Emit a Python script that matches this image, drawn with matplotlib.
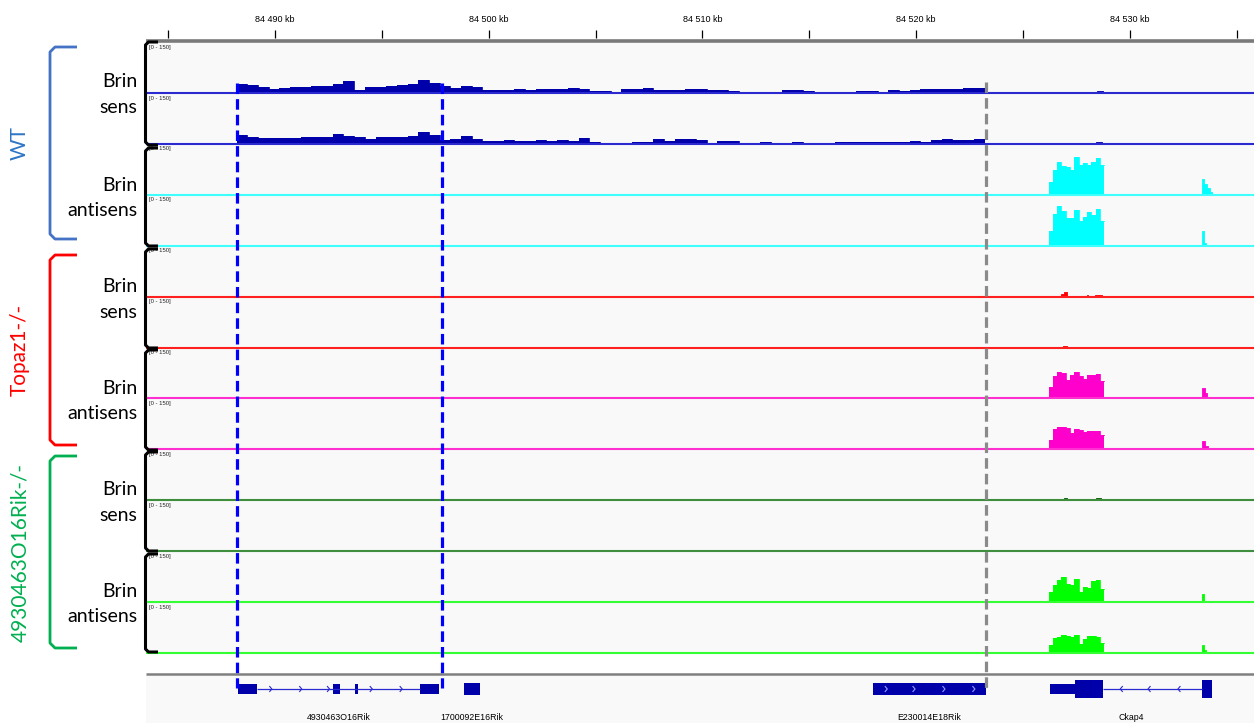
import matplotlib.pyplot as plt
import matplotlib.transforms as mtransforms

W, H = 1254, 723
fig = plt.figure(figsize=(W / 100, H / 100), dpi=100)
fig.patch.set_facecolor('white')

# genomic window shown (kb)
x_lo, x_hi = 84483.96, 84535.81
ruler_ticks = [84485, 84490, 84495, 84500, 84505, 84510, 84515, 84520, 84525, 84530, 84535]
ruler_labels = [84490, 84500, 84510, 84520, 84530]

# sense coverage, 0.5 kb bins starting at 84 488.2 kb (scale 0-150)
sens_start, sens_step = 84488.2, 0.5
wt_sens_1 = [27, 24, 18, 12, 15, 18, 18, 21, 21, 27, 36, 9, 18, 18, 21, 24, 27, 39, 30, 21,
             15, 21, 18, 9, 9, 9, 12, 9, 12, 12, 12, 15, 12, 6, 6, 3, 12, 12, 15, 9,
             9, 9, 12, 12, 9, 9, 6, 0, 0, 3, 3, 9, 9, 6, 0, 3, 0, 0, 6, 6,
             3, 9, 6, 9, 12, 12, 12, 12, 15, 15]
wt_sens_2 = [27, 21, 20, 18, 18, 18, 21, 21, 21, 30, 24, 21, 15, 21, 21, 21, 24, 36, 27, 12,
             15, 24, 15, 9, 9, 12, 9, 9, 12, 9, 12, 9, 18, 6, 3, 3, 3, 6, 6, 15,
             9, 15, 15, 12, 3, 9, 9, 0, 3, 6, 3, 3, 6, 3, 0, 3, 6, 6, 6, 6,
             6, 6, 6, 9, 6, 12, 15, 12, 12, 15]

# antisense coverage over Ckap4 3' exon, 0.2 kb bins starting at 84 526.2 kb
peak_start, peak_step = 84526.2, 0.2
wt_anti_1 = [40, 75, 97, 87, 82, 75, 112, 90, 95, 90, 97, 110, 90]
wt_anti_2 = [45, 95, 117, 105, 82, 82, 108, 75, 85, 100, 92, 110, 75]
topaz_anti_1 = [35, 67, 78, 75, 57, 70, 80, 67, 60, 70, 70, 73, 52]
topaz_anti_2 = [30, 60, 66, 67, 65, 50, 60, 57, 52, 55, 55, 56, 45]
ko_anti_1 = [30, 52, 66, 75, 55, 52, 68, 30, 47, 42, 62, 66, 40]
ko_anti_2 = [25, 45, 48, 55, 52, 47, 55, 28, 42, 50, 50, 48, 32]

# isolated small signals: (start kb, end kb, value)
wt_sens_1_blips = [(84526.87, 84527.02, 5), (84527.30, 84527.44, 5), (84528.47, 84528.75, 8)]
wt_sens_2_blips = [(84526.83, 84526.98, 5), (84528.42, 84528.70, 7)]
wt_anti_1_blips = [(84491.70, 84491.78, 4), (84528.93, 84529.07, 5), (84530.80, 84530.94, 5),
                   (84532.44, 84532.68, 5), (84533.38, 84533.48, 47), (84533.48, 84533.61, 32),
                   (84533.61, 84533.75, 22), (84533.75, 84533.85, 9)]
wt_anti_2_blips = [(84487.83, 84487.90, 3), (84495.30, 84495.38, 3), (84499.66, 84499.73, 3),
                   (84507.38, 84507.45, 3), (84508.08, 84508.15, 3), (84511.20, 84511.28, 3),
                   (84519.83, 84519.90, 3), (84521.79, 84521.86, 3), (84522.12, 84522.19, 3),
                   (84530.24, 84530.34, 3), (84530.57, 84530.71, 3), (84532.91, 84533.19, 4),
                   (84533.38, 84533.48, 45), (84533.48, 84533.58, 10)]
topaz_sens_1_blips = [(84526.78, 84526.92, 8), (84526.92, 84527.06, 14), (84528.00, 84528.05, 6),
                      (84528.37, 84528.70, 6)]
topaz_sens_2_blips = [(84526.87, 84527.06, 7)]
topaz_anti_1_blips = [(84530.20, 84530.34, 5), (84533.38, 84533.52, 32), (84533.52, 84533.61, 17),
                      (84533.61, 84533.70, 7)]
topaz_anti_2_blips = [(84521.66, 84521.73, 4), (84533.38, 84533.52, 25), (84533.52, 84533.66, 10)]
ko_sens_1_blips = [(84526.92, 84527.06, 7), (84528.42, 84528.65, 7)]
ko_sens_2_blips = [(84526.59, 84526.69, 6), (84526.83, 84526.87, 6), (84527.06, 84527.11, 6),
                   (84528.42, 84528.65, 6)]
ko_anti_1_blips = [(84519.45, 84519.52, 4), (84524.49, 84524.63, 5), (84533.38, 84533.48, 24)]
ko_anti_2_blips = [(84529.59, 84529.82, 4), (84532.96, 84533.05, 4), (84533.38, 84533.48, 25),
                   (84533.48, 84533.56, 10)]

# genes: exons (start, end, half height px), introns, strand chevrons
gene_exons = [(84488.27, 84489.16, 5), (84492.71, 84493.04, 5), (84493.74, 84493.88, 5),
              (84496.79, 84497.67, 5), (84498.84, 84499.59, 6), (84517.98, 84523.25, 6),
              (84526.27, 84527.44, 5), (84527.44, 84528.75, 9), (84533.38, 84533.85, 9)]
gene_introns = [(84489.16, 84496.79), (84528.75, 84533.38)]
fwd_arrows = [84489.8, 84491.2, 84492.5, 84494.5, 84495.9]
fwd_arrows_in_box = [84518.6, 84519.9, 84521.3, 84522.7]
rev_arrows = [84529.6, 84530.9, 84532.3]
gene_names = ['4930463O16Rik', '1700092E16Rik', 'E230014E18Rik', 'Ckap4']
gene_label_pos = [84493.0, 84499.2, 84520.6, 84530.05]

# highlighted regions
blue_lines = [84488.22, 84497.81]
grey_line = 84523.27

tracks = [
    ('#0000AA', '#2a2ad0', wt_sens_1, None, wt_sens_1_blips),
    ('#0000AA', '#2a2ad0', wt_sens_2, None, wt_sens_2_blips),
    ('#00FFFF', '#40FFFF', None, wt_anti_1, wt_anti_1_blips),
    ('#00FFFF', '#40FFFF', None, wt_anti_2, wt_anti_2_blips),
    ('#FF0000', '#FF2020', None, None, topaz_sens_1_blips),
    ('#FF0000', '#FF2020', None, None, topaz_sens_2_blips),
    ('#FF00CC', '#FF30D0', None, topaz_anti_1, topaz_anti_1_blips),
    ('#FF00CC', '#FF30D0', None, topaz_anti_2, topaz_anti_2_blips),
    ('#005A00', '#3E8E3E', None, None, ko_sens_1_blips),
    ('#005A00', '#3E8E3E', None, None, ko_sens_2_blips),
    ('#00FF00', '#33FF33', None, ko_anti_1, ko_anti_1_blips),
    ('#00FF00', '#33FF33', None, ko_anti_2, ko_anti_2_blips),
]


def box(x, y, w, h):
    return [x / W, 1 - (y + h) / H, w / W, h / H]


def steps(ax, start, step, vals, color):
    xs = [start + step * i for i in range(len(vals) + 1)]
    ys = list(vals) + [vals[-1]]
    ax.fill_between(xs, 0, ys, step='post', color=color, lw=0)
    ax.step(xs, ys, where='post', color=color, lw=0.6)


panel_bg = '#F9F9F9'
x0, pw = 146, 1108

# ruler
ruler = fig.add_axes(box(x0, 0, pw, 42))
ruler.set_xlim(x_lo, x_hi)
ruler.set_ylim(42, 0)
ruler.axis('off')
ruler.vlines(ruler_ticks, 30, 38, color='black', lw=0.9)
for v in ruler_labels:
    ruler.text(v, 20, '84 %d kb' % (v - 84000), ha='center', va='center',
               fontsize=6.5, family='Liberation Sans')
ruler.hlines(40.5, x_lo, x_hi, color='#7a7a7a', lw=2.6, clip_on=False)

# coverage tracks
base0, spacing = 93.5, 50.9
baselines = []
for i, (col, lcol, svals, pvals, blips) in enumerate(tracks):
    b = base0 + spacing * i
    baselines.append((b, lcol))
    ax = fig.add_axes(box(x0, b - spacing, pw, spacing))
    ax.set_facecolor(panel_bg)
    ax.set_xlim(x_lo, x_hi)
    ax.set_ylim(0, 150)
    for s in ax.spines.values():
        s.set_visible(False)
    ax.set_xticks([])
    ax.set_yticks([])
    if svals is not None:
        steps(ax, sens_start, sens_step, svals, col)
    if pvals is not None:
        steps(ax, peak_start, peak_step, pvals, col)
    for s, e, v in blips:
        ax.fill_between([s, e], 0, v, color=col, lw=0.6, edgecolor=col)
    ax.text(0.003, 0.96, '[0 - 150]', transform=ax.transAxes, fontsize=4.2,
            va='top', ha='left', family='Liberation Sans', color='#222222')

# gene track
gax = fig.add_axes(box(x0, 673, pw, 50))
gax.set_xlim(x_lo, x_hi)
gax.set_ylim(50, 0)
gax.axis('off')
gax.add_patch(plt.Rectangle((x_lo, 0), x_hi - x_lo, 50, color=panel_bg, zorder=0))
gax.hlines(0.5, x_lo, x_hi, color='#808080', lw=1.8)
gene_col = '#0000AA'
yc = 16
for s, e in gene_introns:
    gax.hlines(yc, s, e, color='#2a2ad0', lw=0.9)
for s, e, hh in gene_exons:
    gax.add_patch(plt.Rectangle((s, yc - hh), e - s, 2 * hh, color=gene_col, lw=0))
for x in fwd_arrows:
    gax.plot([x - 0.05, x + 0.05, x - 0.05], [yc - 2.5, yc, yc + 2.5], color='#2a2ad0', lw=0.8)
for x in fwd_arrows_in_box:
    gax.plot([x - 0.05, x + 0.05, x - 0.05], [yc - 2.5, yc, yc + 2.5], color='#9a9aff', lw=0.8)
for x in rev_arrows:
    gax.plot([x + 0.05, x - 0.05, x + 0.05], [yc - 2.5, yc, yc + 2.5], color='#2a2ad0', lw=0.8)
for name, x in zip(gene_names, gene_label_pos):
    gax.text(x, 44, name, ha='center', va='center', fontsize=6.3, family='Liberation Sans')

# overlay in pixel space for annotations
over = fig.add_axes([0, 0, 1, 1], zorder=10)
over.set_xlim(0, W)
over.set_ylim(H, 0)
over.axis('off')
over.patch.set_alpha(0)

for b, lcol in baselines:
    over.hlines(b - 0.5, x0, W, color=lcol, lw=1.5)

tr = mtransforms.blended_transform_factory(ruler.transData, over.transData)
for x in blue_lines:
    over.plot([x, x], [83, 688], transform=tr, color='#0000FF', lw=2.3,
              ls=(0, (3.3, 1.6)), solid_capstyle='butt')
over.plot([grey_line, grey_line], [82, 690], transform=tr, color='#8a8a8a', lw=2.3,
          ls=(0, (3.3, 1.6)))


def bracket(xv, xa, top, bot, color, lw, r=4):
    over.plot([xa, xv + r, xv, xv, xv + r, xa], [top, top, top + r, bot - r, bot, bot],
              color=color, lw=lw, solid_joinstyle='round', solid_capstyle='butt')


pairs = [(42, 145), (148, 246), (249, 348), (350, 450), (452, 551), (554, 652)]
for top, bot in pairs:
    bracket(145.5, 158, top, bot, 'black', 2.2, r=3)

pair_names = ['Brin\nsens', 'Brin\nantisens'] * 3
for (top, bot), name in zip(pairs, pair_names):
    over.text(137, (top + bot) / 2 + 1, name, ha='right', va='center', multialignment='right',
              fontsize=14, family='Lato', linespacing=1.6)

groups = [('WT', '#4472C4', '#2E75C6', 47, 239),
          ('Topaz1-/-', '#FF0000', '#FF0000', 255, 445),
          ('4930463O16Rik-/-', '#00B050', '#00B050', 456, 648)]
for label, bcol, tcol, top, bot in groups:
    bracket(50, 77, top, bot, bcol, 2.0, r=5)
    over.text(20, (top + bot) / 2, label, rotation=90, ha='center', va='center',
              fontsize=15, color=tcol, family='Lato')

fig.savefig('out.png', dpi=100)
